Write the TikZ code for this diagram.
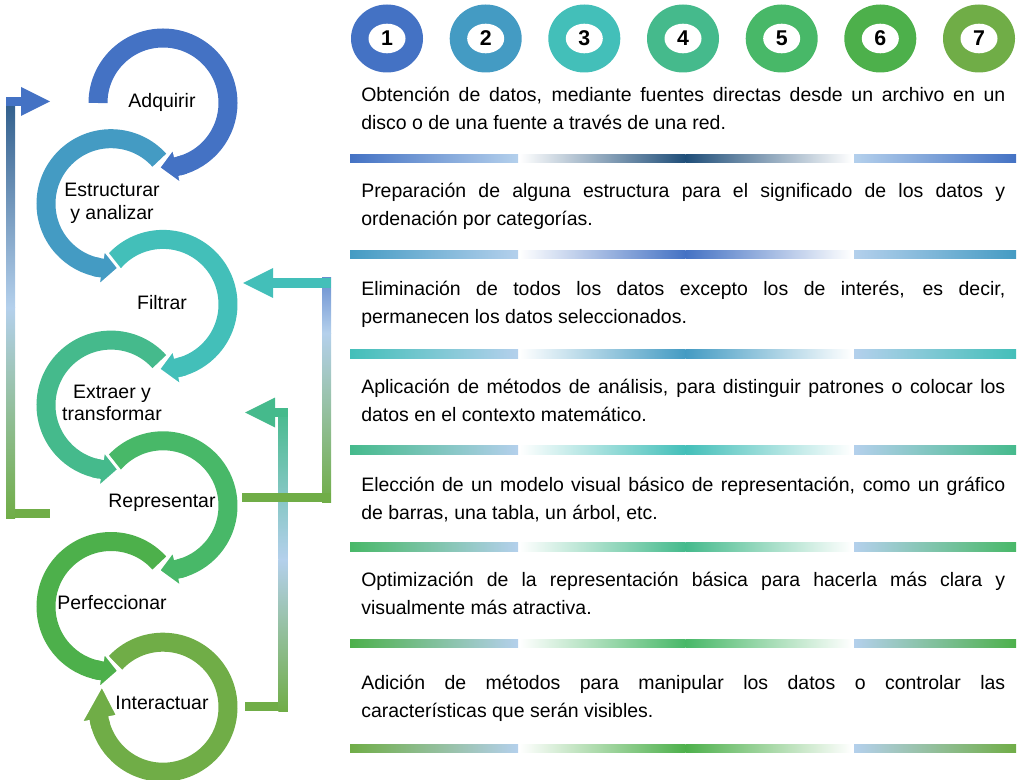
\documentclass[tikz,border=0pt]{standalone}
\usepackage{fontspec}
\setmainfont{Liberation Sans}
\usetikzlibrary{calc}

\definecolor{paso1}{HTML}{4472C4}
\definecolor{paso2}{HTML}{449BC3}
\definecolor{paso3}{HTML}{43BFB9}
\definecolor{paso4}{HTML}{45BA8C}
\definecolor{paso5}{HTML}{48B868}
\definecolor{paso6}{HTML}{4DB04B}
\definecolor{paso7}{HTML}{70AD47}
\definecolor{marino}{HTML}{1F4E79}
\definecolor{pizarra}{HTML}{2E5C8A}
\definecolor{celeste}{HTML}{B4D0EC}

\tikzset{
  pics/anillo/.style args={#1,#2,#3,#4}{
     code={
        \def\radio{65}
        \pgfmathsetmacro\antes{#2+6*sign(#1-#2)}
        \pgfmathsetmacro\despues{#2-2*sign(#1-#2)}
        \draw[#4,line width=14.25pt] ({#1}:\radio) arc[start angle=#1,end angle=#2,radius=\radio];
        \filldraw[fill=#4,draw=white,line width=2.2pt,line join=round] ({#2}:{\radio-19}) -- ({#3}:\radio) -- ({#2}:{\radio+19}) -- cycle;
        \draw[#4,line width=14.25pt] ({\antes}:\radio) arc[start angle=\antes,end angle=\despues,radius=\radio];
     }
  },
  pics/circulo/.style args={#1,#2}{
     code={
        \fill[#2] (0,0) ellipse[x radius=36,y radius=34];
        \fill[white] (0,0) ellipse[x radius=18.5,y radius=14.8];
        \node[font=\bfseries\fontsize{16pt}{16pt}\selectfont,inner sep=0] (-n) at (0,0) {#1};
     }
  },
  pics/barra/.style args={#1,#2}{
     code={
        \shade[left color=#1,right color=celeste] (0,-4.25) rectangle (168,4.25);
        \shade[left color=white,right color=#2] (169.5,-4.25) rectangle (335.5,4.25);
        \shade[left color=#2,right color=white] (335.5,-4.25) rectangle (502,4.25);
        \shade[left color=celeste,right color=#1] (504,-4.25) rectangle (666,4.25);
     }
  },
  etiqueta/.style={font=\fontsize{14.6pt}{17pt}\selectfont,align=center,inner sep=0},
  parrafo/.style={font=\fontsize{14.6pt}{21pt}\selectfont,text width=483pt,align=justify,inner sep=0,anchor=base west}
}

\begin{document}
\begin{tikzpicture}[x=0.75pt,y=0.75pt]
        \useasboundingbox (0,0) rectangle (1023,-780);
        \draw (163,-707.2) pic{anillo={137,-169,-200,paso7}};
        \draw (111,-606.5) pic{anillo={42,261,277,paso6}};
        \draw (163,-505.8) pic{anillo={139,-77,-94,paso5}};
        \draw (111,-405.1) pic{anillo={42,261,277,paso4}};
        \draw (163,-304.4) pic{anillo={139,-77,-94,paso3}};
        \draw (111,-203.7) pic{anillo={42,261,277,paso2}};
        \draw (163,-103) pic{anillo={180,-77,-94,paso1}};

        \node[etiqueta] (adquirir) at (162,-102) {Adquirir};
        \node[etiqueta] (estructurar) at (112,-203) {Estructurar\\y analizar};
        \node[etiqueta] (filtrar) at (162,-303) {Filtrar};
        \node[etiqueta] (extraer) at (112,-403) {Extraer y\\transformar};
        \node[etiqueta] (representar) at (162,-503) {Representar};
        \node[etiqueta] (perfeccionar) at (112,-603) {Perfeccionar};
        \node[etiqueta] (interactuar) at (162,-703) {Interactuar};

        \coordinate (izq1) at (50,-513.5);
        \coordinate (izq2) at (10.5,-513.5);
        \coordinate (izq3) at (10.5,-101.5);
        \coordinate (izq4) at (50,-101.5);
        \fill[paso7] ($(izq2)+(-4.5,4.5)$) rectangle ($(izq1)+(0,-4.5)$);
        \shade[top color=pizarra,bottom color=celeste] ($(izq3)+(-4.5,4)$) rectangle ($(izq2)!0.5!(izq3)+(4.5,0)$);
        \shade[top color=celeste,bottom color=paso7] ($(izq2)!0.5!(izq3)+(-4.5,0)$) rectangle ($(izq2)+(4.5,-4.5)$);
        \fill[paso1] ($(izq3)+(-4.5,4.5)$) rectangle ($(izq4)+(-28,-4.5)$);
        \fill[paso1] ($(izq4)+(-29,14.5)$) -- (izq4) -- ($(izq4)+(-29,-14.5)$) -- cycle;

        \coordinate (der1) at (245,-706.5);
        \coordinate (der2) at (283,-706.5);
        \coordinate (der3) at (283,-412.5);
        \coordinate (der4) at (245,-412.5);
        \fill[paso7] ($(der1)+(0,4.5)$) rectangle ($(der2)+(5,-4.5)$);
        \shade[top color=paso4,bottom color=celeste] ($(der3)+(-4.75,4.5)$) rectangle ($(der2)!0.5!(der3)+(4.75,0)$);
        \shade[top color=celeste,bottom color=paso7] ($(der2)!0.5!(der3)+(-4.75,0)$) rectangle ($(der2)+(4.75,-4.5)$);
        \fill[paso4] ($(der3)+(-10,4.5)$) rectangle ($(der3)+(4.75,-4.5)$);
        \fill[paso4] ($(der4)+(30,15)$) -- (der4) -- ($(der4)+(30,-15)$) -- cycle;

        \coordinate (arr1) at (242,-497.5);
        \coordinate (arr2) at (326.5,-497.5);
        \coordinate (arr3) at (326.5,-283);
        \coordinate (arr4) at (243,-283);
        \shade[top color=paso1!80!white,bottom color=celeste] ($(arr3)+(-4.5,5)$) rectangle ($(arr3)+(4.5,-50)$);
        \shade[top color=celeste,bottom color=paso7] ($(arr3)+(-4.5,-50)$) rectangle ($(arr2)+(4.5,-4.5)$);
        \fill[paso7] ($(arr1)+(0,4.5)$) rectangle ($(arr2)+(4.5,-4.5)$);
        \fill[paso3] ($(arr4)+(29,5)$) rectangle ($(arr3)+(4.5,-5)$);
        \fill[paso3] ($(arr4)+(30,15)$) -- (arr4) -- ($(arr4)+(30,-15)$) -- cycle;

        \draw (387,-38.5) pic (num1) {circulo={1,paso1}};
        \draw (485.7,-38.5) pic (num2) {circulo={2,paso2}};
        \draw (584.3,-38.5) pic (num3) {circulo={3,paso3}};
        \draw (683,-38.5) pic (num4) {circulo={4,paso4}};
        \draw (781.7,-38.5) pic (num5) {circulo={5,paso5}};
        \draw (880.3,-38.5) pic (num6) {circulo={6,paso6}};
        \draw (979,-38.5) pic (num7) {circulo={7,paso7}};

        \node[parrafo] (texto1) at (361,-102) {Obtención de datos, mediante fuentes directas desde un archivo en un\linebreak disco o de una fuente a través de una red.};
        \node[parrafo] (texto2) at (361,-198) {Preparación de alguna estructura para el significado de los datos y\linebreak ordenación por categorías.};
        \node[parrafo] (texto3) at (361,-296) {Eliminación de todos los datos excepto los de interés, es decir,\linebreak permanecen los datos seleccionados.};
        \node[parrafo] (texto4) at (361,-393) {Aplicación de métodos de análisis, para distinguir patrones o colocar los\linebreak datos en el contexto matemático.};
        \node[parrafo] (texto5) at (361,-491) {Elección de un modelo visual básico de representación, como un gráfico\linebreak de barras, una tabla, un árbol, etc.};
        \node[parrafo] (texto6) at (361,-586) {Optimización de la representación básica para hacerla más clara y\linebreak visualmente más atractiva.};
        \node[parrafo] (texto7) at (361,-689) {Adición de métodos para manipular los datos o controlar las\linebreak características que serán visibles.};

        \draw (350,-158.5) pic{barra={paso1,marino}};
        \draw (350,-254.5) pic{barra={paso2,paso1}};
        \draw (350,-354) pic{barra={paso3,paso2}};
        \draw (350,-450) pic{barra={paso4,paso3}};
        \draw (350,-547) pic{barra={paso5,paso4}};
        \draw (350,-643.5) pic{barra={paso6,paso5}};
        \draw (350,-748.5) pic{barra={paso7,paso6}};
\end{tikzpicture}
\end{document}
